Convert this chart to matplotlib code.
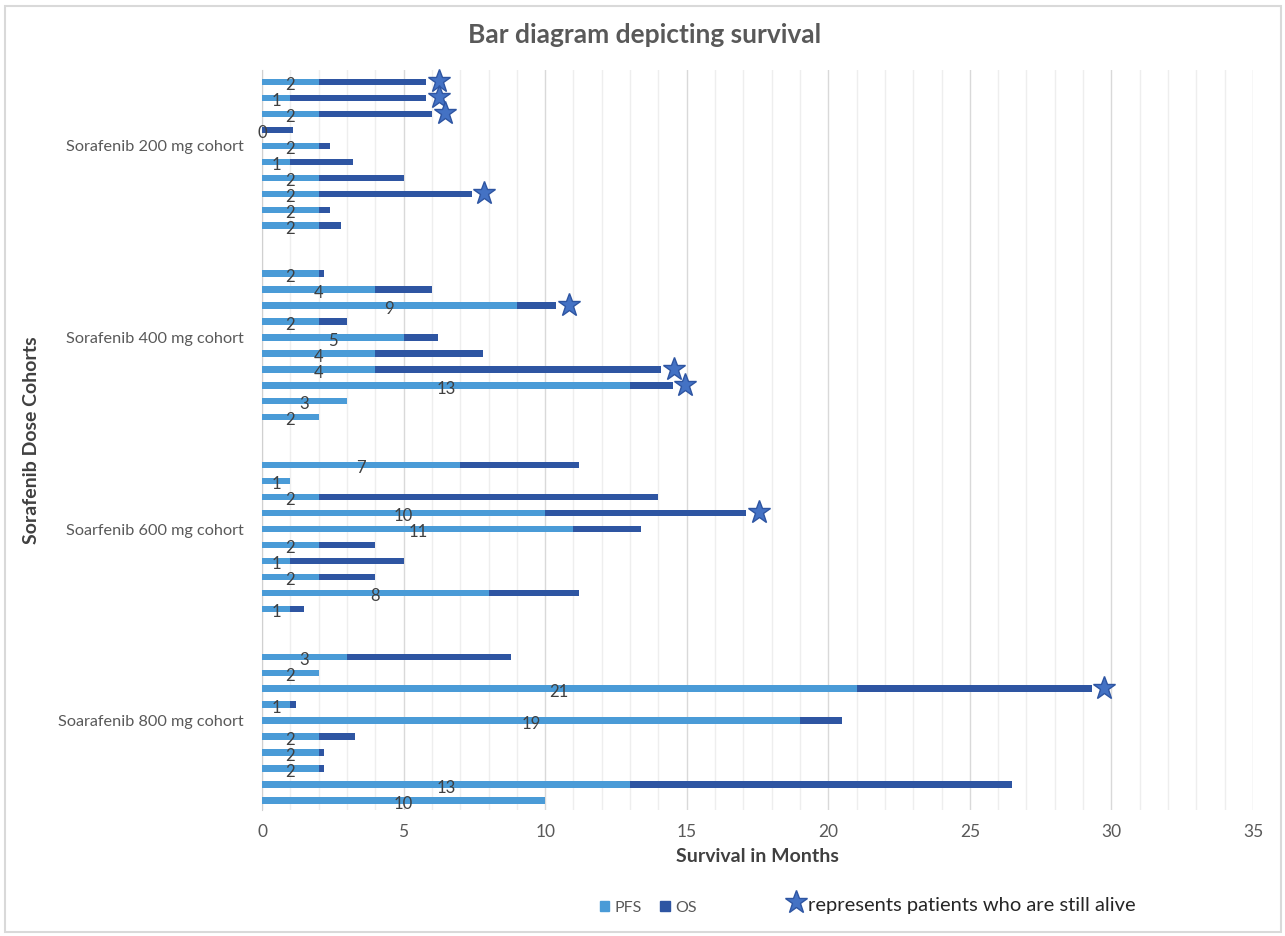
import numpy as np
import matplotlib.pyplot as plt
from matplotlib.lines import Line2D
from matplotlib.patches import Rectangle, Patch
from matplotlib.ticker import MultipleLocator

plt.rcParams['font.family'] = ['Lato', 'DejaVu Sans']

cohorts = ['Sorafenib 200 mg cohort', 'Sorafenib 400 mg cohort',
           'Soarfenib 600 mg cohort', 'Soarafenib 800 mg cohort']

# each cohort listed top to bottom, months
pfs_200 = [2, 1, 2, 0, 2, 1, 2, 2, 2, 2]
os_200 = [5.8, 5.8, 6.0, 1.1, 2.4, 3.2, 5.0, 7.4, 2.4, 2.8]
alive_200 = [1, 1, 1, 0, 0, 0, 0, 1, 0, 0]

pfs_400 = [2, 4, 9, 2, 5, 4, 4, 13, 3, 2]
os_400 = [2.2, 6.0, 10.4, 3.0, 6.2, 7.8, 14.1, 14.5, 3.0, 2.0]
alive_400 = [0, 0, 1, 0, 0, 0, 1, 1, 0, 0]

pfs_600 = [7, 1, 2, 10, 11, 2, 1, 2, 8, 1]
os_600 = [11.2, 1.0, 14.0, 17.1, 13.4, 4.0, 5.0, 4.0, 11.2, 1.5]
alive_600 = [0, 0, 0, 1, 0, 0, 0, 0, 0, 0]

pfs_800 = [3, 2, 21, 1, 19, 2, 2, 2, 13, 10]
os_800 = [8.8, 2.0, 29.3, 1.2, 20.5, 3.3, 2.2, 2.2, 26.5, 10.0]
alive_800 = [0, 0, 1, 0, 0, 0, 0, 0, 0, 0]

pfs_all = [pfs_200, pfs_400, pfs_600, pfs_800]
os_all = [os_200, os_400, os_600, os_800]
alive_all = [alive_200, alive_400, alive_600, alive_800]

c_pfs = '#4A9BD7'
c_os = '#2E55A2'
c_star = '#4472C4'
c_text = '#595959'

fig = plt.figure(figsize=(12.85, 9.36), dpi=100)
ax = fig.add_axes([262 / 1285, 1 - 810 / 936, 991 / 1285, 740 / 936])

h = 0.4
for g in range(4):
    y = g * 12 + np.arange(10)
    pfs = np.array(pfs_all[g], dtype=float)
    os_ = np.array(os_all[g], dtype=float)
    ax.barh(y, pfs, height=h, color=c_pfs, zorder=3)
    ax.barh(y, os_ - pfs, left=pfs, height=h, color=c_os, zorder=3)
    for yi, p in zip(y, pfs):
        ax.text(p / 2, yi + 0.2, '%d' % p, ha='center', va='center',
                fontsize=12, color='#404040', zorder=5)
    alive = np.array(alive_all[g], dtype=bool)
    ax.plot(os_[alive] + 0.45, y[alive] - 0.05, linestyle='none', marker='*',
            markersize=17, markerfacecolor=c_star, markeredgecolor=c_os,
            markeredgewidth=1.0, zorder=4, clip_on=False)

ax.set_xlim(0, 35)
ax.set_ylim(45.6, -0.75)
ax.xaxis.set_major_locator(MultipleLocator(5))
ax.xaxis.set_minor_locator(MultipleLocator(1))
ax.grid(axis='x', which='major', color='#d9d9d9', linewidth=1.0, zorder=0)
ax.grid(axis='x', which='minor', color='#eeeeee', linewidth=1.0, zorder=0)
ax.set_yticks([g * 12 + 4 for g in range(4)])
ax.set_yticklabels(cohorts)
ax.tick_params(axis='y', length=0, pad=13, labelsize=11.7, labelcolor=c_text)
ax.tick_params(axis='x', which='both', length=0, pad=10, labelsize=12.5,
               labelcolor=c_text)
for s in ['top', 'right', 'bottom']:
    ax.spines[s].set_visible(False)
ax.spines['left'].set_color('#d0d0d0')

ax.set_xlabel('Survival in Months', fontsize=14, fontweight='bold',
              color='#404040', labelpad=6)
ax.set_ylabel('Sorafenib Dose Cohorts', fontsize=14, fontweight='bold',
              color='#404040')
ax.yaxis.set_label_coords((40 - 262) / 991, 0.5)
fig.text(645 / 1285, 1 - 35 / 936, 'Bar diagram depicting survival',
         ha='center', va='center', fontsize=19, fontweight='bold',
         color='#595959')

handles = [Patch(color=c_pfs, label='PFS'), Patch(color=c_os, label='OS')]
fig.legend(handles=handles, loc='center', ncol=2, frameon=False,
           bbox_to_anchor=(648 / 1285, 1 - 908 / 936), fontsize=11.5,
           handlelength=0.6, handleheight=0.6, handletextpad=0.3,
           columnspacing=1.2, labelcolor=c_text)
fig.add_artist(Line2D([796 / 1285], [1 - 902 / 936], marker='*',
                      markersize=17, markerfacecolor=c_star,
                      markeredgecolor=c_os, linestyle='none',
                      transform=fig.transFigure))
fig.text(808 / 1285, 1 - 905 / 936, 'represents patients who are still alive',
         ha='left', va='center', fontsize=14.5, color='#262626')

fig.add_artist(Rectangle((5 / 1285, 4 / 936), 1276 / 1285, 926 / 936,
                         transform=fig.transFigure, fill=False,
                         edgecolor='#d9d9d9', linewidth=1.5))

fig.savefig('out.png', dpi=100)
